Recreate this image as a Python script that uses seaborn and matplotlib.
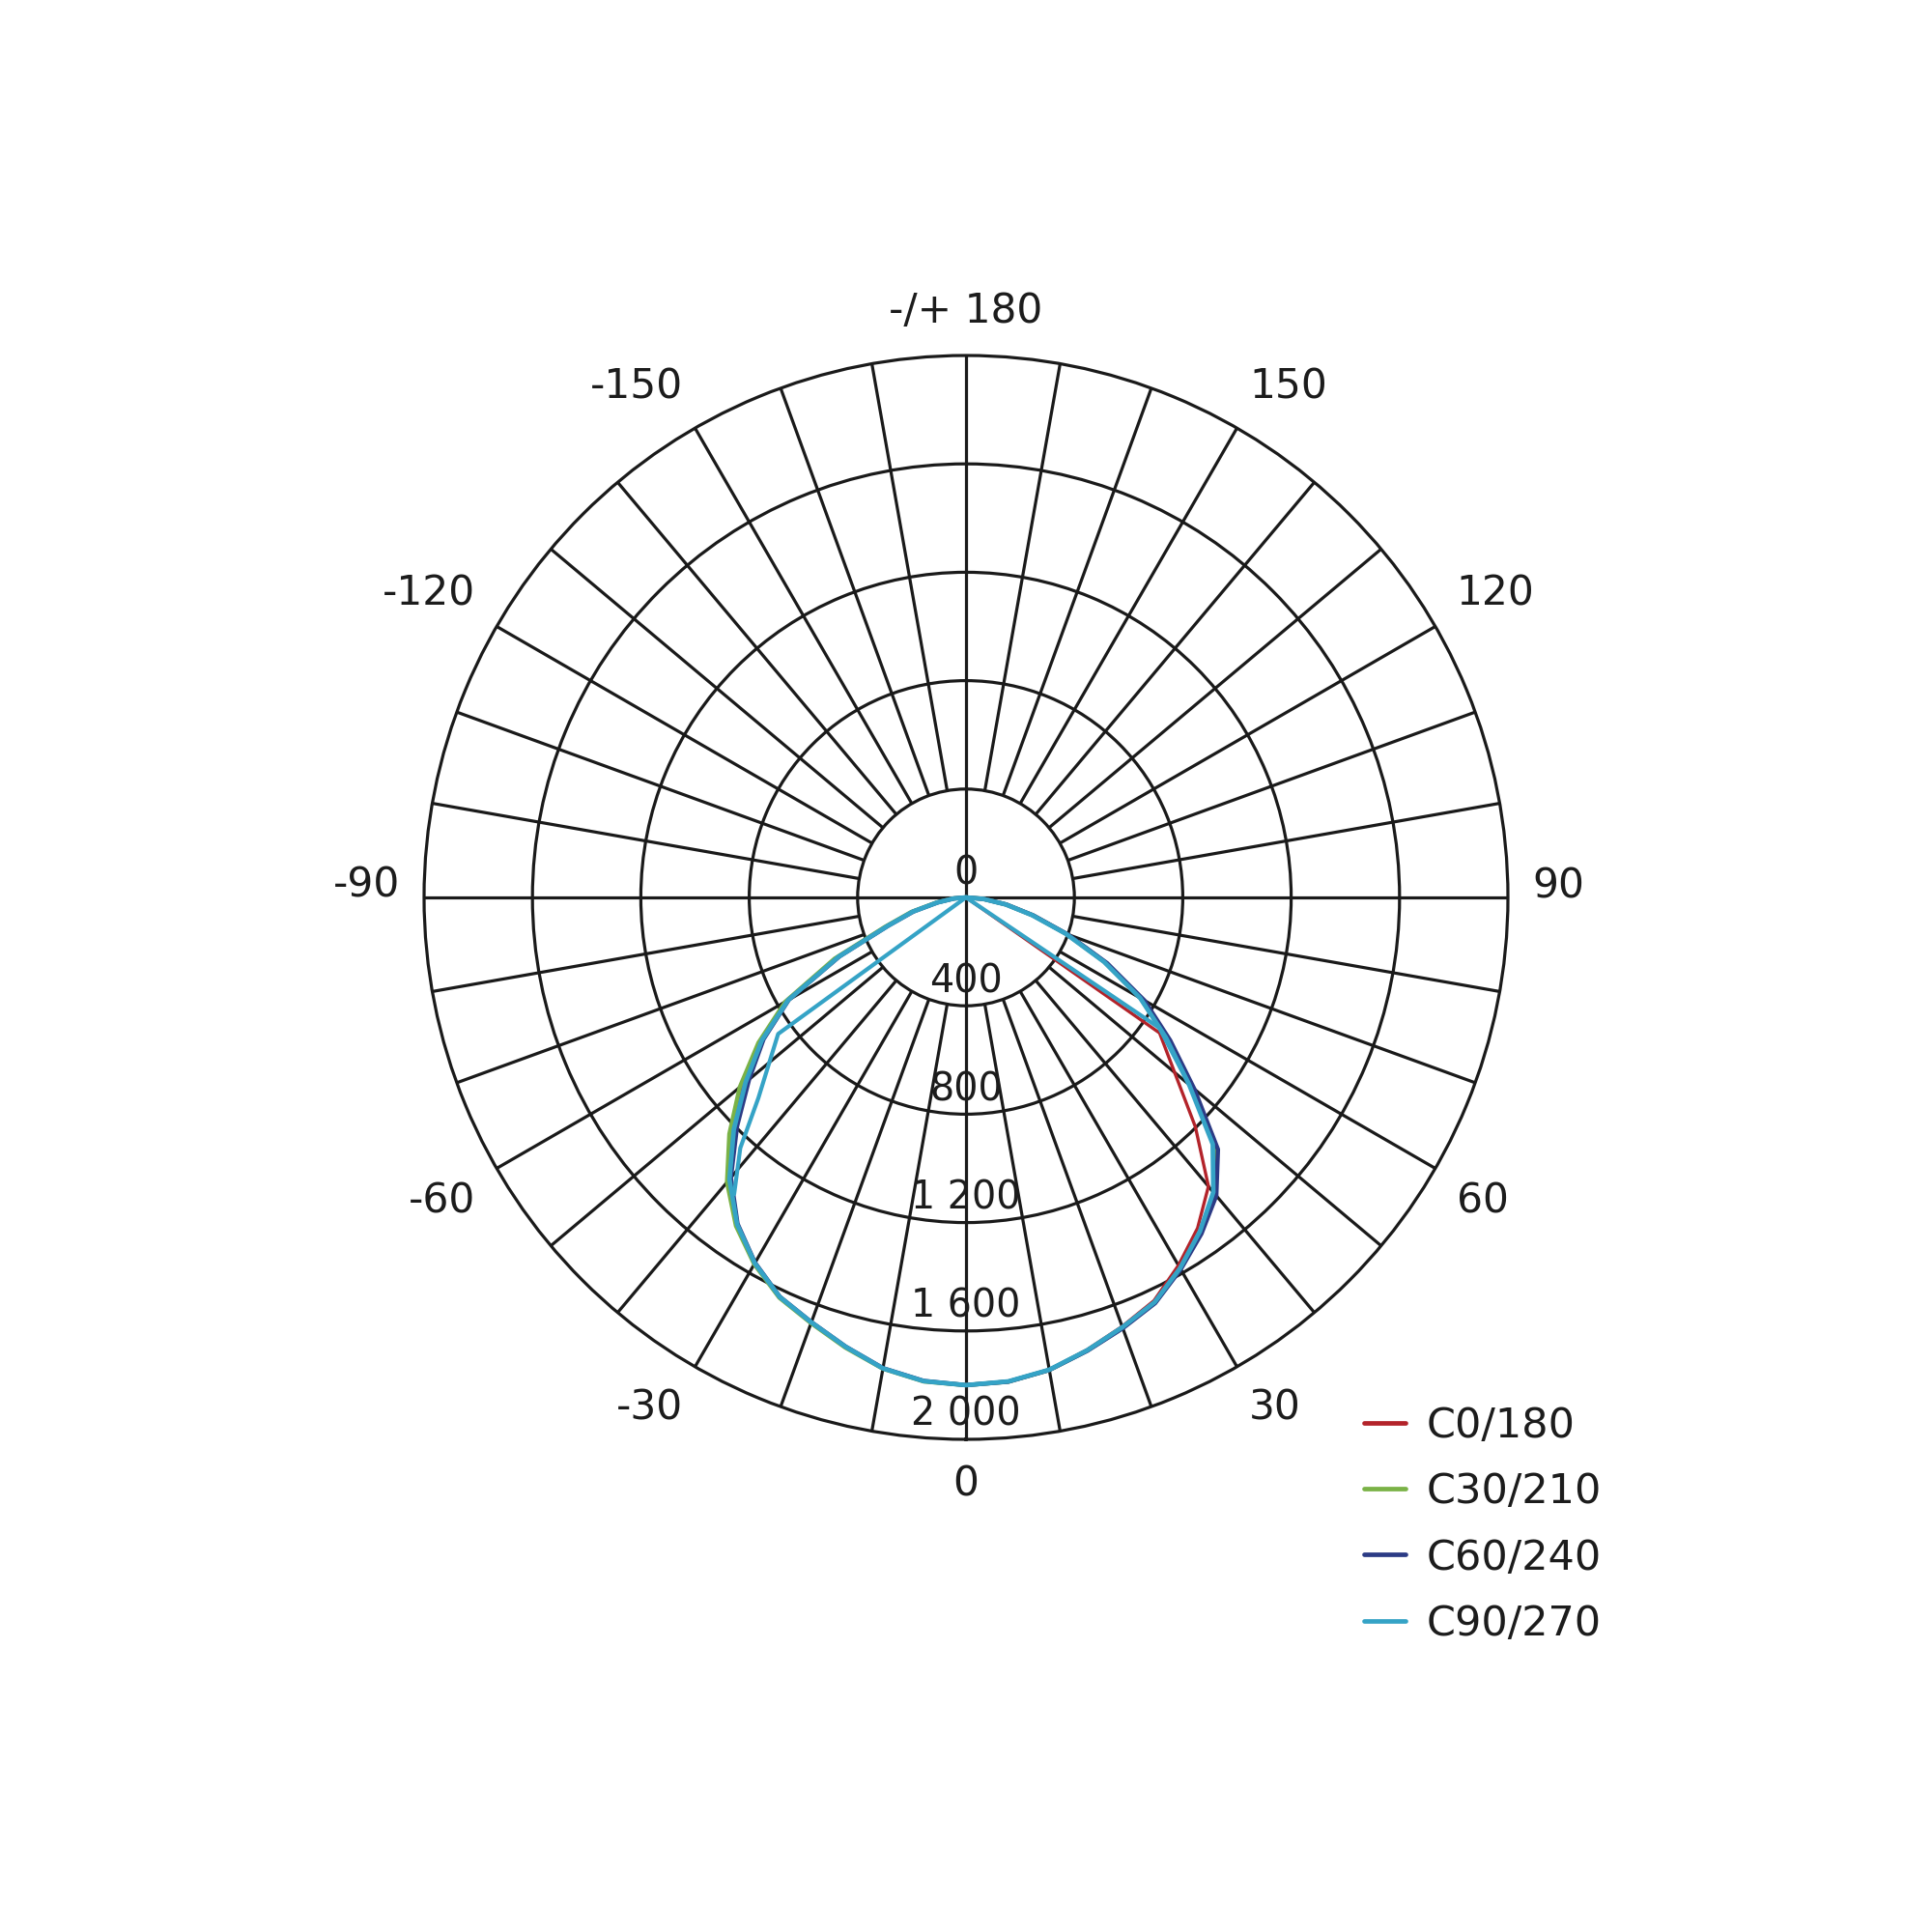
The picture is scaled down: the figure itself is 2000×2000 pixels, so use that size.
import numpy as np
import pandas as pd
import matplotlib
matplotlib.use("Agg")
import matplotlib.pyplot as plt
import seaborn as sns
from matplotlib.transforms import offset_copy
from matplotlib.lines import Line2D

# ---------------- data (gamma in degrees, intensity in cd/klm) ----------------
gamma_full = list(range(-90, 95, 5))

red_gamma = list(range(-90, 50, 5)) + [55, 90]
red_vals = [0, 45, 108, 205, 310, 525, 762, 928, 1080, 1228, 1366, 1475, 1560, 1628, 1670, 1718, 1765, 1792,
            1800,
            1793, 1770, 1728, 1685, 1642, 1568, 1490, 1392, 1197, 872, 0]

green_vals = [0, 48, 112, 210, 318, 535, 770, 935, 1090, 1235, 1372, 1480, 1563, 1630, 1672, 1720, 1766, 1793,
              1800,
              1794, 1771, 1731, 1690, 1650, 1582, 1510, 1428, 1300, 1085, 905, 745, 565, 395, 255, 150, 65, 0]

blue_vals = [0, 44, 105, 200, 305, 515, 755, 912, 1045, 1195, 1350, 1470, 1557, 1626, 1668, 1716, 1764, 1791,
             1800,
             1794, 1771, 1732, 1692, 1652, 1585, 1515, 1437, 1315, 1100, 920, 760, 575, 400, 258, 152, 66, 0]

cyan_vals = [0, 45, 107, 204, 308, 520, 758, 920, 1062, 1212, 1358, 1473, 1559, 1627, 1669, 1717, 1765, 1792,
             1800,
             1793, 1770, 1730, 1688, 1648, 1580, 1505, 1420, 1288, 1075, 900, 742, 562, 392, 252, 148, 64, 0]

# coarse extra trace of C90/270 (straight chords to the centre)
cyan_chord_gamma = [-38, -42, -46, -54, 0, 56, 50]
cyan_chord_vals = [1390, 1245, 1065, 857, 0, 860, 1075]

series_names = ["C0/180", "C30/210", "C60/240", "C90/270"]
series_colors = ["#b3232a", "#7ab246", "#2c3b85", "#35a3c6"]

ring_values = [400, 800, 1200, 1600, 2000]
ring_labels = ["400", "800", "1 200", "1 600", "2 000"]
angle_ticks = [0, 30, 60, 90, 120, 150, 180, 210, 240, 270, 300, 330]
angle_labels = ["0", "30", "60", "90", "120", "150", "-/+ 180", "-150", "-120", "-90", "-60", "-30"]
r_max = 2000

# ---------------- figure ----------------
sns.set_theme(style="white")
plt.rcParams["font.family"] = ["DejaVu Sans"]

fig = plt.figure(figsize=(20, 20), dpi=100)
fig.patch.set_facecolor("white")
ax = fig.add_axes([0.2195, 0.255, 0.561, 0.561], projection="polar")
ax.set_facecolor("white")
ax.set_theta_zero_location("S")
ax.set_theta_direction(1)
ax.set_ylim(0, r_max)

grid_col = "#1a1a1a"
grid_lw = 2.3
grid_kw = dict(color=grid_col, linewidth=grid_lw, zorder=1, solid_capstyle="butt")
ax.set_yticks(ring_values[:-1])
ax.set_yticklabels([])
ax.yaxis.grid(True, color=grid_col, linewidth=grid_lw)
ax.xaxis.grid(False)
ax.set_xticks([])
ax.spines["polar"].set_color(grid_col)
ax.spines["polar"].set_linewidth(grid_lw)
for t in range(0, 360, 10):
    r0 = 0 if t % 90 == 0 else ring_values[0]
    ax.plot([np.deg2rad(t)] * 2, [r0, r_max], **grid_kw)

# ---------------- curves ----------------
gam_lists = [red_gamma, gamma_full, gamma_full, gamma_full]
val_lists = [red_vals, green_vals, blue_vals, cyan_vals]
widths = [2.4, 3.2, 3.2, 3.4]
for name, col, g, v, lw in zip(series_names, series_colors, gam_lists, val_lists, widths):
    df = pd.DataFrame({"theta": np.deg2rad(g), "r": v})
    sns.lineplot(data=df, x="theta", y="r", ax=ax, color=col, linewidth=lw,
                 sort=False, estimator=None, legend=False, zorder=3,
                 solid_joinstyle="round", solid_capstyle="round")

df_c = pd.DataFrame({"theta": np.deg2rad(cyan_chord_gamma), "r": cyan_chord_vals})
sns.lineplot(data=df_c, x="theta", y="r", ax=ax, color=series_colors[3], linewidth=3.0,
             sort=False, estimator=None, legend=False, zorder=3,
             solid_joinstyle="round", solid_capstyle="round")

ax.set_xlabel("")
ax.set_ylabel("")
ax.set_ylim(0, r_max)

# ---------------- labels ----------------
txt_color = "#1c1c1c"
eps = 0.1
for t, lab in zip(angle_ticks, angle_labels):
    th = np.deg2rad(t)
    sx, sy = np.sin(th), -np.cos(th)  # screen direction (x right, y up)
    ha = "left" if sx > eps else ("right" if sx < -eps else "center")
    va = "bottom" if sy > eps else ("top" if sy < -eps else "baseline")
    ax.text(th, r_max * 1.045, lab, ha=ha, va=va, fontsize=30.5, color=txt_color,
            clip_on=False, zorder=5)

up = offset_copy(ax.transData, fig=fig, x=0, y=18, units="points")
ax.text(0, 0, "0", transform=up, ha="center", va="center", fontsize=28.5, color=txt_color, zorder=5)
for rv, lab in zip(ring_values, ring_labels):
    ax.text(0, rv, lab, transform=up, ha="center", va="center", fontsize=28.5, color=txt_color, zorder=5)

# ---------------- legend ----------------
handles = [Line2D([0], [0], color=c, linewidth=3.4) for c in series_colors]
fig.legend(handles, series_names, loc="upper left", bbox_to_anchor=(0.706, 0.2725),
           frameon=False, fontsize=31, handlelength=1.0, handletextpad=0.5,
           labelspacing=0.61, borderpad=0, borderaxespad=0, labelcolor=txt_color)

fig.savefig("out.png", dpi=100, facecolor="white")
